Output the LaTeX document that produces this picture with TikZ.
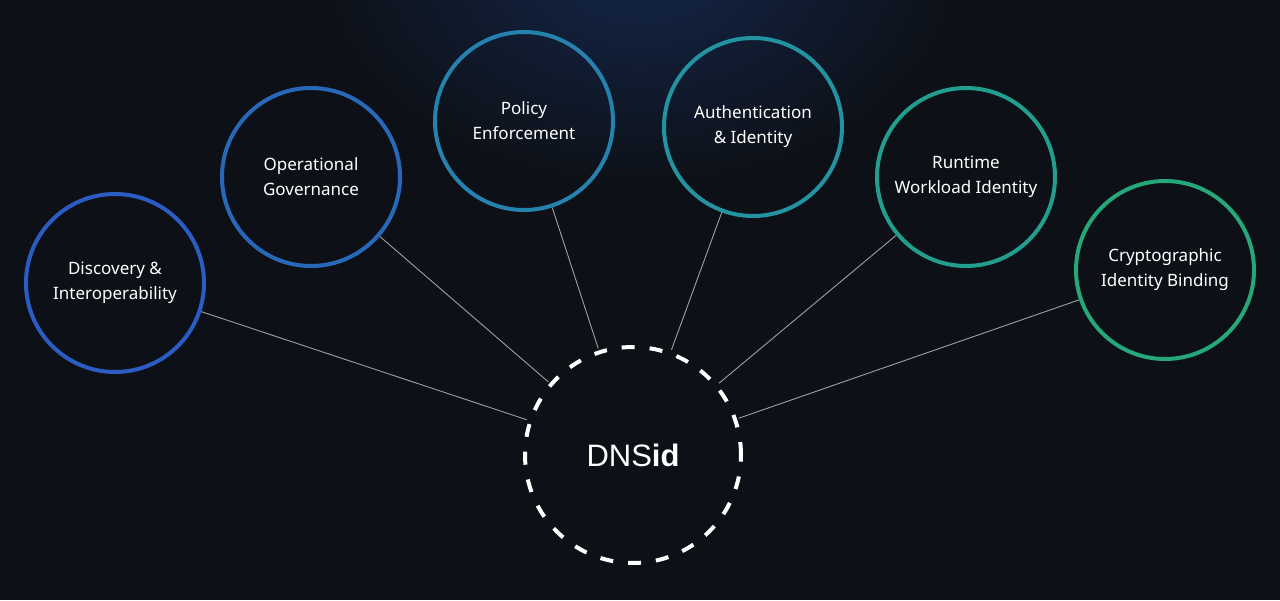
\documentclass[tikz,border=0pt]{standalone}
\usepackage{fontspec}
\setmainfont{Noto Sans}
\newfontfamily\idf{Liberation Sans}
\begin{document}
\begin{tikzpicture}[x=1pt,y=1pt,
  topic/.style={circle,draw=#1,line width=4pt,minimum size=178pt,inner sep=0pt,align=center,text=white,font=\fontsize{17}{25}\selectfont},
  link/.style={draw=gray!75,line width=0.9pt}]
\definecolor{bg}{HTML}{0D1117}
\definecolor{cA}{HTML}{2B5CC4}
\definecolor{cB}{HTML}{2868B8}
\definecolor{cC}{HTML}{2581AE}
\definecolor{cD}{HTML}{2393A2}
\definecolor{cE}{HTML}{229E8E}
\definecolor{cF}{HTML}{25A77A}
\definecolor{glow}{HTML}{14264A}
\fill[bg] (0,0) rectangle (1280,600);
\begin{scope}
\clip (0,0) rectangle (1280,600);
\shade[inner color=glow, outer color=bg] (640,640) ellipse (330 and 230);
\end{scope}
\useasboundingbox (0,0) rectangle (1280,600);
\node[circle,draw=white,line width=4pt,dash pattern=on 13pt off 15pt,minimum size=216pt,inner sep=0pt,outer sep=4pt,text=white,font=\fontsize{31}{31}\selectfont] (dns) at (633,145) {{\idf DNS\bfseries id}};
\node[topic=cA] (a) at (115,317) {Discovery \&\\Interoperability};
\node[topic=cB] (b) at (311,423) {Operational\\Governance};
\node[topic=cC] (c) at (524,479) {Policy\\Enforcement};
\node[topic=cD] (d) at (753,473) {Authentication\\\& Identity};
\node[topic=cE] (e) at (966,423) {Runtime\\Workload Identity};
\node[topic=cF] (f) at (1165,330) {Cryptographic\\Identity Binding};
\foreach \n in {a,b,c,d,e,f} \draw[link] (\n) -- (dns);
\end{tikzpicture}
\end{document}
